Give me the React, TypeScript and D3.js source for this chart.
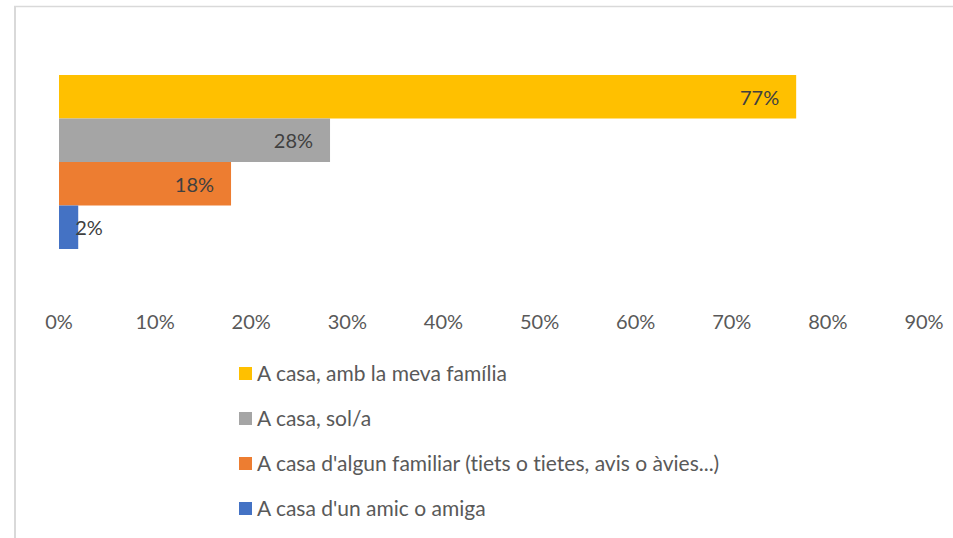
import React from "react";
import * as d3 from "d3";

const series = [
  "A casa, amb la meva família",
  "A casa, sol/a",
  "A casa d'algun familiar (tiets o tietes, avis o àvies...)",
  "A casa d'un amic o amiga",
];
const values = [0.767, 0.282, 0.179, 0.02];
const colors = ["#FFC000", "#A5A5A5", "#ED7D31", "#4472C4"];
const ticks = [0, 0.1, 0.2, 0.3, 0.4, 0.5, 0.6, 0.7, 0.8, 0.9];

const W = 953;
const H = 538;
const FONT = "Lato, 'Open Sans', sans-serif";

export default function App() {
  const x = d3.scaleLinear().domain([0, 0.9]).range([59, 924]);
  const y = d3.scaleBand<string>().domain(series).range([75, 249]).padding(0);
  const pct = d3.format(".0%");

  return (
    <svg
      width={W}
      height={H}
      style={{ position: "absolute", left: 0, top: 0, background: "#fff", fontVariantLigatures: "none" }}
      fontFamily={FONT}
    >
      <rect x={0} y={0} width={W} height={H} fill="#fff" />
      <line x1={14} x2={W} y1={6.5} y2={6.5} stroke="#d9d9d9" strokeWidth={1.5} />
      <line x1={15} x2={15} y1={6} y2={H} stroke="#d9d9d9" strokeWidth={2} />

      {series.map((s, i) => (
        <rect
          key={s}
          x={x(0)}
          y={y(s)}
          width={x(values[i]) - x(0)}
          height={y.bandwidth()}
          fill={colors[i]}
        />
      ))}

      {series.map((s, i) => {
        const barW = x(values[i]) - x(0);
        const small = barW < 50;
        return (
          <text
            key={"l" + s}
            x={small ? x(values[i]) - 3 : x(values[i]) - 17}
            y={(y(s) as number) + y.bandwidth() / 2}
            textAnchor={small ? "start" : "end"}
            dominantBaseline="central"
            fontSize={20}
            fill="#404040"
          >
            {pct(values[i])}
          </text>
        );
      })}

      {ticks.map((t) => (
        <text
          key={"t" + t}
          x={x(t)}
          y={321}
          textAnchor="middle"
          dominantBaseline="central"
          fontSize={20}
          fill="#595959"
        >
          {pct(t)}
        </text>
      ))}

      {series.map((s, i) => (
        <g key={"g" + s} transform={`translate(239, ${367 + i * 45})`}>
          <rect x={0} y={0} width={13} height={13} fill={colors[i]} />
          <text
            x={18}
            y={5.5}
            dominantBaseline="central"
            fontSize={21}
            fill="#595959"
          >
            {s}
          </text>
        </g>
      ))}
    </svg>
  );
}
